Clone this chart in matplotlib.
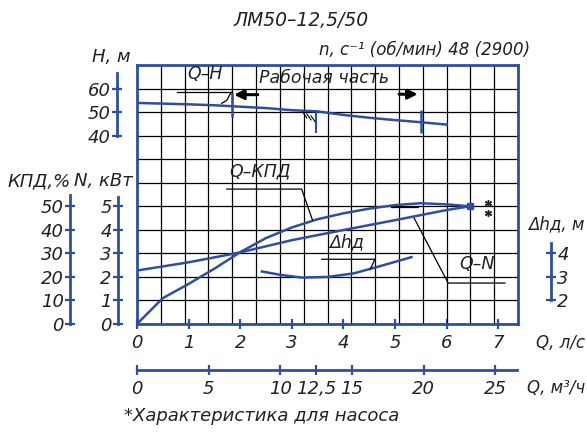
import matplotlib
matplotlib.use("Agg")
import matplotlib.pyplot as plt
from matplotlib import font_manager
from matplotlib.ticker import MultipleLocator

# pump ЛМ50-12,5/50, flow in l/s
q_head = [0, 0.5, 1.0, 1.5, 2.0, 2.5, 3.0, 3.5, 4.0, 4.5, 5.0, 5.5, 6.0]
head = [53.9, 53.6, 53.3, 52.9, 52.3, 51.7, 50.8, 50.3, 48.8, 47.6, 46.6, 45.7, 44.7]

q_eff = [0, 0.5, 1.0, 1.5, 2.0, 2.5, 3.0, 3.5, 4.0, 4.5, 5.0, 5.5, 6.0, 6.45]
eff = [0, 11, 17, 23.5, 30.5, 36.5, 41, 44.5, 47, 49, 50.5, 51.3, 50.8, 50]

q_pow = [0, 1, 2, 3, 4, 5, 6, 6.45]
power = [2.27, 2.62, 3.04, 3.56, 3.99, 4.41, 4.84, 5.0]

q_npsh = [2.42, 2.8, 3.2, 3.7, 4.2, 4.7, 5.32]
npsh = [3.23, 3.08, 2.97, 3.0, 3.15, 3.45, 3.84]

q_work = (1.84, 5.5)
q_nom = 12.5 / 3.6

q_ticks = list(range(8))
qm_ticks = [0, 5, 10, 12.5, 15, 20, 25]
qm_labels = ['0', '5', '10', '12,5', '15', '20', '25']

BLUE = '#2f4e9f'
INK = '#222222'
W, H = 587, 437
Q_MAX = 381 / 51.6

names = {f.name for f in font_manager.fontManager.ttflist}
FONT = 'Liberation Sans Narrow' if 'Liberation Sans Narrow' in names else 'DejaVu Sans'
plt.rcParams['font.family'] = [FONT, 'DejaVu Sans']
plt.rcParams['font.style'] = 'italic'


def px(x, y):
    return x / W, 1 - y / H


fig = plt.figure(figsize=(W / 100, H / 100), dpi=100)
ax = fig.add_axes([137 / W, 1 - 324 / H, 381 / W, 259 / H])
ax.set_xlim(0, Q_MAX)
ax.set_ylim(0, 11)
ax.set_axisbelow(True)
for s in ax.spines.values():
    s.set_color(BLUE)
    s.set_linewidth(2.0)
ax.set_xticks(q_ticks)
ax.xaxis.set_minor_locator(MultipleLocator(Q_MAX / 16))
ax.set_yticks(range(12))
ax.tick_params(axis='y', length=0, labelleft=False)
ax.tick_params(axis='x', which='minor', length=0)
ax.tick_params(axis='x', which='major', direction='inout', length=7, width=1.6,
               color=BLUE, labelsize=13, labelcolor=INK, pad=4)
ax.yaxis.grid(True, color='black', lw=0.9)
ax.xaxis.grid(True, which='minor', color='black', lw=0.9)


def scale_axis(ylim, side, offset, bounds, ticks):
    a = ax.twinx()
    a.set_ylim(ylim)
    for s in a.spines.values():
        s.set_visible(False)
    sp = a.spines[side]
    sp.set_visible(True)
    sp.set_position(('outward', offset * 0.72))
    sp.set_bounds(*bounds)
    sp.set_color(BLUE)
    sp.set_linewidth(2.0)
    a.yaxis.set_ticks_position(side)
    a.set_yticks(ticks)
    a.tick_params(axis='y', direction='inout', length=7, width=1.6, color=BLUE,
                  labelsize=13, labelcolor=INK, pad=1)
    return a


ax_h = scale_axis((-40, 70), 'left', 20, (40, 66.7), [40, 50, 60])
ax_n = scale_axis((0, 11), 'left', 19, (0, 5.4), range(6))
ax_k = scale_axis((0, 110), 'left', 67, (0, 55), range(0, 60, 10))
ax_d = scale_axis((1, 12), 'right', 33, (2, 4.45), [2, 3, 4])

# second flow scale, m3/h
ax_m = ax.twiny()
ax_m.set_xlim(0, Q_MAX * 3.6)
for s in ax_m.spines.values():
    s.set_visible(False)
ax_m.spines['bottom'].set_visible(True)
ax_m.spines['bottom'].set_position(('outward', 46 * 0.72))
ax_m.spines['bottom'].set_bounds(0, 26.5)
ax_m.spines['bottom'].set_color(BLUE)
ax_m.spines['bottom'].set_linewidth(2.0)
ax_m.xaxis.set_ticks_position('bottom')
ax_m.set_xticks(qm_ticks, qm_labels)
ax_m.tick_params(axis='x', direction='inout', length=7, width=1.6, color=BLUE,
                 labelsize=13, labelcolor=INK, pad=4)

lw = 1.8
ax_h.plot(q_head, head, color=BLUE, lw=lw)
ax_k.plot(q_eff, eff, color=BLUE, lw=lw)
ax_n.plot(q_pow, power, color=BLUE, lw=lw)
ax_n.plot(q_pow[-1], power[-1], 's', color=BLUE, ms=4)
ax_d.plot(q_npsh, npsh, color=BLUE, lw=lw)

# working range and nominal point on Q-H
ax_h.vlines(q_work[0], 48.1, 58.0, color=BLUE, lw=1.8)
ax_h.vlines(q_work[1], 41.2, 50.9, color=BLUE, lw=1.8)
ax_h.vlines(q_nom, 41.2, 50.2, color=BLUE, lw=1.5)
for dx in (0.0, 0.08, 0.16):
    ax_h.plot([q_nom - 0.26 + dx, q_nom - 0.18 + dx], [50.0 - dx * 10, 47.5 - dx * 10],
              color='black', lw=0.8)
arrow = dict(arrowstyle='-|>', color='black', lw=2.2, mutation_scale=14,
             shrinkA=0, shrinkB=0)
ax_h.annotate('', xy=(q_work[0] + 0.04, 57.4), xytext=(q_work[0] + 0.5, 57.4), arrowprops=arrow)
ax_h.annotate('', xy=(q_work[1] - 0.06, 57.6), xytext=(q_work[1] - 0.42, 57.6), arrowprops=arrow)
ax_h.text((q_work[0] + q_work[1]) / 2 - 0.05, 64.3, 'Рабочая часть', fontsize=12.5,
          color=INK, ha='center', va='center')

# leaders and curve labels
thin = dict(color='black', lw=0.9)
ax_h.plot([0.77, 1.835], [58.4, 58.4], **thin)
ax_h.plot([1.835, 1.8, 1.74, 1.64], [58.4, 57.5, 55.0, 53.7], **thin)
ax_h.text(1.32, 66.2, 'Q–H', fontsize=12.5, color=INK, ha='center', va='center')

ax_k.plot([1.74, 3.19, 3.40], [57.3, 57.3, 44.2], **thin)
ax_k.text(2.38, 65, 'Q–КПД', fontsize=12.5, color=INK, ha='center', va='center')

ax_d.plot([3.58, 4.61, 4.52], [3.75, 3.75, 3.32], **thin)
ax_d.text(4.07, 4.48, 'Δhд', fontsize=12.5, color=INK, ha='center', va='center')

ax_n.plot([7.13, 6.03, 5.37], [1.74, 1.74, 4.5], **thin)
ax_n.plot([4.92, 5.45], [4.98, 4.98], **thin)
ax_n.text(6.59, 2.55, 'Q–N', fontsize=12.5, color=INK, ha='center', va='center')
# footnote marks at the end of the curves
ax_n.plot([6.80, 6.80], [5.16, 4.72], ls='none', marker=(6, 2, 0), ms=5,
          mew=1.0, color=INK)

# titles and scale names
fig.text(*px(301, 20), 'ЛМ50–12,5/50', fontsize=13.5, color=INK, ha='center', va='center')
fig.text(*px(425, 50), 'n, с⁻¹ (об/мин) 48 (2900)', fontsize=12, color=INK,
         ha='center', va='center')
fig.text(*px(111, 57), 'H, м', fontsize=13, color=INK, ha='center', va='center')
fig.text(*px(39, 181), 'КПД,%', fontsize=13, color=INK, ha='center', va='center')
fig.text(*px(103, 181), 'N, кВт', fontsize=13, color=INK, ha='center', va='center')
fig.text(*px(584, 224), 'Δhд, м', fontsize=12, color=INK, ha='right', va='center')
fig.text(*px(585, 343), 'Q, л/с', fontsize=12, color=INK, ha='right', va='center')
fig.text(*px(585, 388), 'Q, м³/ч', fontsize=12, color=INK, ha='right', va='center')
fig.text(*px(262, 416), '*Характеристика для насоса', fontsize=13, color=INK,
         ha='center', va='center')

fig.savefig('out.png', dpi=100)
